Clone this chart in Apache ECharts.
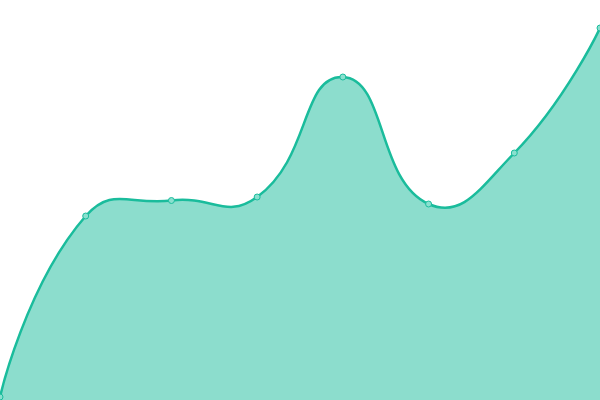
<!DOCTYPE html>
<html><head><meta charset="utf-8">
<script src="https://cdn.jsdelivr.net/npm/echarts@6/dist/echarts.min.js"></script>
<style>html,body{margin:0;padding:0;background:#fff}#c{width:600px;height:400px}</style>
</head><body><div id="c"></div>
<script>
var categories = ['A','B','C','D','E','F','G','H'];
var values = [3, 184, 199.5, 203, 323, 196, 247, 372];
var yMin = 0, yMax = 400;
var SMOOTH = 0.5;

// Smooth curve using the classic (bounding-box constrained) ECharts smoothing
function smoothPath(pts) {
  var minX = Infinity, minY = Infinity, maxX = -Infinity, maxY = -Infinity;
  pts.forEach(function (p) {
    minX = Math.min(minX, p[0]); maxX = Math.max(maxX, p[0]);
    minY = Math.min(minY, p[1]); maxY = Math.max(maxY, p[1]);
  });
  function clamp(c) {
    return [Math.max(minX, Math.min(maxX, c[0])), Math.max(minY, Math.min(maxY, c[1]))];
  }
  var d = 'M' + pts[0][0] + ' ' + pts[0][1];
  var cp0 = pts[0].slice();
  for (var i = 1; i < pts.length; i++) {
    var p = pts[i], prev = pts[i - 1], next = pts[i + 1];
    var cp1, ratio = 0.5, v = [0, 0];
    if (!next) {
      cp1 = p.slice();
    } else {
      v = [next[0] - prev[0], next[1] - prev[1]];
      var lp = Math.hypot(p[0] - prev[0], p[1] - prev[1]);
      var ln = Math.hypot(next[0] - p[0], next[1] - p[1]);
      ratio = ln / (ln + lp);
      cp1 = [p[0] - v[0] * SMOOTH * (1 - ratio), p[1] - v[1] * SMOOTH * (1 - ratio)];
    }
    var a = clamp(cp0), b = clamp(cp1);
    d += ' C' + a[0] + ' ' + a[1] + ' ' + b[0] + ' ' + b[1] + ' ' + p[0] + ' ' + p[1];
    cp0 = [p[0] + v[0] * SMOOTH * ratio, p[1] + v[1] * SMOOTH * ratio];
  }
  return d;
}

var chart = echarts.init(document.getElementById('c'));
chart.setOption({
  animation: false,
  grid: {left: 0, right: 0, top: 0, bottom: 0},
  xAxis: {type: 'category', data: categories, boundaryGap: false, show: false},
  yAxis: {type: 'value', min: yMin, max: yMax, show: false},
  series: [{
    type: 'custom',
    data: [0],
    clip: false,
    z: 1,
    renderItem: function (params, api) {
      var pts = values.map(function (v, i) { return api.coord([i, v]); });
      var base = api.coord([0, yMin])[1];
      var line = smoothPath(pts);
      var area = line + ' L' + pts[pts.length - 1][0] + ' ' + base + ' L' + pts[0][0] + ' ' + base + ' Z';
      return {
        type: 'group',
        children: [
          {type: 'path', shape: {pathData: area}, style: {fill: 'rgba(26,188,156,0.5)', stroke: null}},
          {type: 'path', shape: {pathData: line}, style: {fill: null, stroke: '#1abc9c', lineWidth: 2.5}}
        ]
      };
    }
  }, {
    type: 'line',
    data: values,
    z: 3,
    symbol: 'circle',
    symbolSize: 6,
    itemStyle: {color: '#8ae0cf', borderColor: '#1abc9c', borderWidth: 1},
    lineStyle: {width: 0, opacity: 0}
  }]
});
</script></body></html>
